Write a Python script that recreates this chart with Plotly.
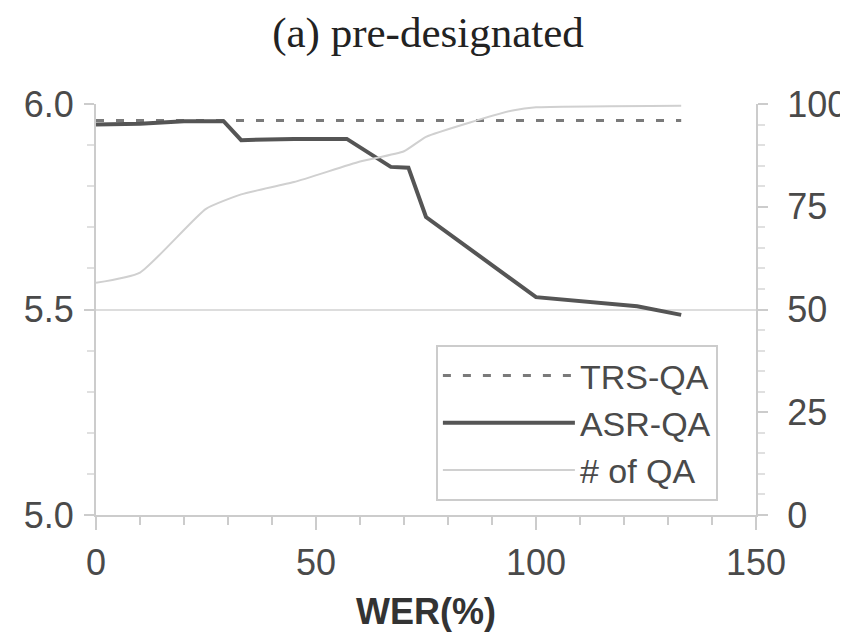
import plotly.graph_objects as go

# ---- data ----
trs_wer = [0, 133]
trs_score = [5.96, 5.96]

asr_wer = [0, 10, 20, 29, 33, 45, 57, 67, 71, 75, 100, 123, 133]
asr_score = [5.950, 5.952, 5.958, 5.958, 5.912, 5.915, 5.915, 5.847, 5.845, 5.725, 5.530, 5.508, 5.487]

qa_wer = [0, 10, 25, 33, 45, 60, 70, 75, 85, 95, 100, 133]
qa_count = [56.5, 59, 74.5, 78, 81, 86, 88.5, 92, 95.5, 98.5, 99.2, 99.6]

x_ticks = [0, 50, 100, 150]
y_ticks = [5.0, 5.5, 6.0]
y2_ticks = [0, 25, 50, 75, 100]

AX = "#cccccc"
TXT = "#4a4a4a"
FONT = "Liberation Sans, Arial, sans-serif"

fig = go.Figure()
fig.add_trace(go.Scatter(x=trs_wer, y=trs_score, name="TRS-QA", mode="lines",
                         line=dict(color="#7a7a7a", width=3, dash="8px,12px")))
fig.add_trace(go.Scatter(x=asr_wer, y=asr_score, name="ASR-QA", mode="lines",
                         line=dict(color="#555555", width=4)))
fig.add_trace(go.Scatter(x=qa_wer, y=qa_count, name="# of QA", mode="lines", yaxis="y2",
                         line=dict(color="#d0d0d0", width=2, shape="spline", smoothing=0.5)))

fig.update_layout(
    width=840, height=624,
    margin=dict(l=88, r=92, t=96, b=117, autoexpand=False),
    paper_bgcolor="white", plot_bgcolor="white",
    title=dict(text="(a) pre-designated", x=0.5, xanchor="center", y=0.962, yanchor="middle",
               font=dict(family="Liberation Serif, Times New Roman, serif", size=43, color="#222")),
    font=dict(family=FONT, size=36, color=TXT),
    xaxis=dict(range=[0, 150], tickvals=x_ticks, showgrid=False, zeroline=False, automargin=False,
               showline=True, linecolor=AX, linewidth=2,
               ticks="outside", ticklen=13, tickwidth=2, tickcolor=AX,
               minor=dict(dtick=10, ticks="outside", ticklen=8, tickwidth=2, tickcolor=AX),
               ticklabelstandoff=2,
               tickfont=dict(size=36, color=TXT),
               title=dict(text="<b>WER(%)</b>", font=dict(size=36, color="#333"), standoff=17)),
    yaxis=dict(range=[5.0, 6.0], tickvals=y_ticks, ticktext=["5.0", "5.5", "6.0"], automargin=False,
               showgrid=True, gridcolor="#dddddd", gridwidth=2, zeroline=False,
               showline=True, linecolor=AX, linewidth=2,
               ticks="outside", ticklen=10, tickwidth=2, tickcolor=AX,
               minor=dict(dtick=0.1, ticks="outside", ticklen=7, tickwidth=2, tickcolor="#e0e0e0", showgrid=False),
               ticklabelstandoff=3,
               tickfont=dict(size=36, color=TXT)),
    yaxis2=dict(range=[0, 100], tickvals=y2_ticks, overlaying="y", side="right", automargin=False,
                showgrid=False, zeroline=False,
                showline=True, linecolor=AX, linewidth=2,
                ticks="outside", ticklen=10, tickwidth=2, tickcolor=AX,
                minor=dict(dtick=5, ticks="outside", ticklen=7, tickwidth=2, tickcolor="#e0e0e0"),
                ticklabelstandoff=12,
                tickfont=dict(size=36, color=TXT)),
    legend=dict(x=0.515, y=0.4136, xanchor="left", yanchor="top",
                bgcolor="white", bordercolor=AX, borderwidth=2,
                font=dict(size=34, color=TXT), itemwidth=132,
                tracegroupgap=0),
    showlegend=True,
)

fig.write_html("out.html")
